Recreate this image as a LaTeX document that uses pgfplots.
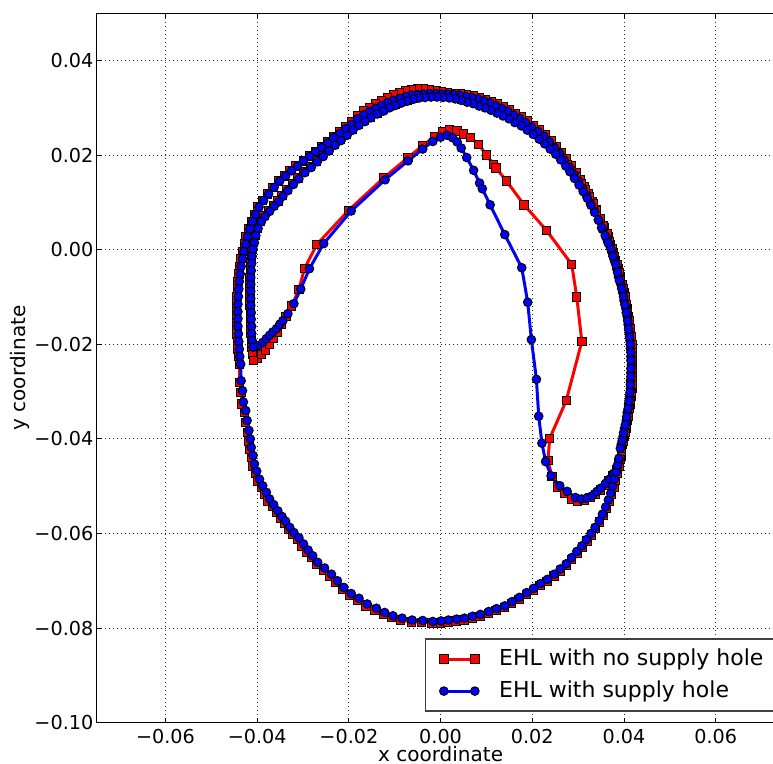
\documentclass[border=0pt]{standalone}
\usepackage{pgfplots}
\pgfplotsset{compat=1.18}
\usepackage{fontspec}
\setmainfont{DejaVu Sans}
\begin{document}
\begin{tikzpicture}
\begin{axis}[
  scale only axis,
  width=343.9pt, height=354.7pt,
  xmin=-0.075, xmax=0.075, ymin=-0.10, ymax=0.05,
  scaled x ticks=false, scaled y ticks=false,
  xtick={-0.06,-0.04,-0.02,0,0.02,0.04,0.06},
  xticklabels={−0.06,−0.04,−0.02,0.00,0.02,0.04,0.06},
  ytick={-0.10,-0.08,-0.06,-0.04,-0.02,0,0.02,0.04},
  yticklabels={−0.10,−0.08,−0.06,−0.04,−0.02,0.00,0.02,0.04},
  tick align=inside, major tick length=2.5pt,
  tick style={black, line width=0.5pt},
  axis line style={black, line width=0.6pt},
  ticklabel style={font=\fontsize{9.6}{11}\selectfont},
  xticklabel style={inner sep=0pt, anchor=north, yshift=-3.1pt},
  yticklabel style={inner sep=0pt, anchor=east, xshift=-1.5pt},
  grid=major,
  major grid style={black!85, line width=0.5pt, dash pattern=on 0.5pt off 1.5pt},
  xlabel={x coordinate}, ylabel={y coordinate},
  label style={font=\fontsize{9}{11}\selectfont},
  every axis x label/.style={at={(axis description cs:0.5,-0.0550)}, anchor=base},
  every axis y label/.style={at={(axis description cs:-0.1028,0.5)}, rotate=90, anchor=base},
  legend image code/.code={\draw[#1] plot coordinates {(0pt,0pt) (15.5pt,0pt)};},
  legend cell align=left,
  legend style={at={(0.9906,0.0155)}, anchor=south east, draw=black!75, line width=0.6pt,
    fill=white, inner xsep=7pt, inner ysep=4.5pt, row sep=5pt,
    font=\fontsize{11}{13}\selectfont,
    nodes={inner sep=0pt, text height=8.5pt, text depth=2.5pt},
    /tikz/every odd column/.append style={column sep=10pt}},
]
\addplot[red, line width=1.5pt, mark=square*, mark size=2.1pt,
  mark options={fill=red, draw=black, line width=0.5pt, solid}] coordinates {
(-0.0408,-0.0234) (-0.0399,-0.0229) (-0.0390,-0.0222) (-0.0382,-0.0212) (-0.0373,-0.0200) (-0.0364,-0.0188) (-0.0356,-0.0174) (-0.0347,-0.0158) (-0.0337,-0.0141) (-0.0325,-0.0119) (-0.0309,-0.0084) (-0.0297,-0.0040) (-0.0270,0.0011) (-0.0201,0.0083) (-0.0124,0.0152) (-0.0071,0.0195) (-0.0039,0.0220) (-0.0013,0.0240) (0.0005,0.0249) (0.0020,0.0254) (0.0036,0.0251) (0.0050,0.0245) (0.0065,0.0237) (0.0083,0.0223) (0.0100,0.0200) (0.0116,0.0180) (0.0121,0.0173) (0.0144,0.0145) (0.0182,0.0095) (0.0231,0.0041) (0.0286,-0.0031) (0.0297,-0.0100) (0.0308,-0.0194) (0.0274,-0.0319) (0.0238,-0.0399) (0.0234,-0.0446) (0.0243,-0.0479) (0.0256,-0.0502) (0.0270,-0.0516) (0.0285,-0.0527) (0.0299,-0.0532) (0.0314,-0.0530) (0.0326,-0.0524) (0.0338,-0.0517) (0.0349,-0.0508) (0.0359,-0.0499) (0.0367,-0.0489) (0.0376,-0.0478) (0.0384,-0.0465) (0.0389,-0.0451) (0.0394,-0.0436)
(0.0397,-0.0412) (0.0401,-0.0395) (0.0404,-0.0378) (0.0408,-0.0361) (0.0410,-0.0344) (0.0413,-0.0327) (0.0415,-0.0310) (0.0417,-0.0294) (0.0417,-0.0277) (0.0418,-0.0260) (0.0419,-0.0243) (0.0418,-0.0226) (0.0417,-0.0209) (0.0416,-0.0192) (0.0414,-0.0175) (0.0412,-0.0158) (0.0410,-0.0141) (0.0407,-0.0124) (0.0403,-0.0107) (0.0400,-0.0090) (0.0396,-0.0073) (0.0391,-0.0057) (0.0387,-0.0040) (0.0382,-0.0023) (0.0377,-0.0006) (0.0371,0.0011)
(0.0366,0.0027) (0.0357,0.0046) (0.0349,0.0065) (0.0340,0.0084) (0.0331,0.0101) (0.0322,0.0118) (0.0314,0.0133) (0.0305,0.0148) (0.0295,0.0162) (0.0285,0.0177) (0.0274,0.0192) (0.0264,0.0206) (0.0253,0.0218) (0.0241,0.0231) (0.0229,0.0243) (0.0216,0.0253) (0.0202,0.0263) (0.0189,0.0272) (0.0176,0.0281) (0.0163,0.0288) (0.0150,0.0296) (0.0137,0.0302) (0.0124,0.0308) (0.0111,0.0314) (0.0098,0.0318) (0.0085,0.0322) (0.0072,0.0325) (0.0057,0.0327) (0.0043,0.0329) (0.0029,0.0331) (0.0015,0.0333) (0.0002,0.0335) (-0.0011,0.0337) (-0.0024,0.0339) (-0.0037,0.0340) (-0.0050,0.0340) (-0.0063,0.0339) (-0.0076,0.0337) (-0.0089,0.0333) (-0.0103,0.0328) (-0.0116,0.0322) (-0.0129,0.0316) (-0.0142,0.0309) (-0.0155,0.0301) (-0.0168,0.0293) (-0.0181,0.0284) (-0.0194,0.0271) (-0.0207,0.0261) (-0.0220,0.0250) (-0.0233,0.0240) (-0.0246,0.0229) (-0.0260,0.0218) (-0.0273,0.0208) (-0.0286,0.0198) (-0.0299,0.0188)
(-0.0315,0.0177) (-0.0328,0.0167) (-0.0341,0.0156) (-0.0354,0.0145) (-0.0366,0.0132) (-0.0378,0.0118) (-0.0389,0.0104) (-0.0399,0.0090) (-0.0406,0.0075) (-0.0413,0.0060) (-0.0419,0.0044) (-0.0424,0.0028) (-0.0428,0.0012) (-0.0432,-0.0004) (-0.0435,-0.0019) (-0.0438,-0.0035) (-0.0440,-0.0051) (-0.0442,-0.0067) (-0.0443,-0.0083) (-0.0444,-0.0099) (-0.0445,-0.0115) (-0.0445,-0.0131) (-0.0445,-0.0146) (-0.0445,-0.0162) (-0.0444,-0.0178) (-0.0443,-0.0194) (-0.0442,-0.0210) (-0.0441,-0.0226) (-0.0439,-0.0242)
(-0.0438,-0.0281) (-0.0435,-0.0302) (-0.0433,-0.0326) (-0.0428,-0.0344) (-0.0425,-0.0365) (-0.0421,-0.0386) (-0.0418,-0.0404) (-0.0416,-0.0422) (-0.0412,-0.0439) (-0.0409,-0.0457) (-0.0404,-0.0472) (-0.0398,-0.0489) (-0.0391,-0.0503) (-0.0383,-0.0517) (-0.0376,-0.0531) (-0.0367,-0.0543) (-0.0358,-0.0556) (-0.0349,-0.0568) (-0.0341,-0.0578) (-0.0332,-0.0591) (-0.0323,-0.0602) (-0.0312,-0.0613) (-0.0302,-0.0626) (-0.0292,-0.0639) (-0.0282,-0.0651) (-0.0271,-0.0665) (-0.0256,-0.0677) (-0.0241,-0.0690) (-0.0228,-0.0704) (-0.0214,-0.0718) (-0.0198,-0.0731) (-0.0181,-0.0741) (-0.0163,-0.0753) (-0.0143,-0.0762) (-0.0125,-0.0771) (-0.0107,-0.0778) (-0.0087,-0.0783) (-0.0064,-0.0787) (-0.0041,-0.0788) (-0.0019,-0.0789)
(0.0000,-0.0789) (0.0016,-0.0787) (0.0034,-0.0785) (0.0051,-0.0783) (0.0069,-0.0779) (0.0086,-0.0775) (0.0104,-0.0769) (0.0121,-0.0763) (0.0139,-0.0757) (0.0155,-0.0748) (0.0171,-0.0739) (0.0187,-0.0729) (0.0202,-0.0720) (0.0217,-0.0710) (0.0232,-0.0701) (0.0247,-0.0690) (0.0261,-0.0679) (0.0274,-0.0668) (0.0286,-0.0655) (0.0298,-0.0642) (0.0309,-0.0629) (0.0319,-0.0616) (0.0329,-0.0603) (0.0338,-0.0590) (0.0347,-0.0576) (0.0355,-0.0562) (0.0362,-0.0547) (0.0368,-0.0532) (0.0373,-0.0518) (0.0378,-0.0503) (0.0382,-0.0488) (0.0386,-0.0473) (0.0389,-0.0458) (0.0392,-0.0444)
(0.0395,-0.0420) (0.0399,-0.0404) (0.0402,-0.0387) (0.0406,-0.0370) (0.0409,-0.0353) (0.0412,-0.0336) (0.0414,-0.0319) (0.0416,-0.0302) (0.0417,-0.0285) (0.0418,-0.0268) (0.0418,-0.0251) (0.0418,-0.0234) (0.0418,-0.0217) (0.0417,-0.0200) (0.0415,-0.0184) (0.0413,-0.0167) (0.0411,-0.0150) (0.0408,-0.0133) (0.0405,-0.0116) (0.0402,-0.0099) (0.0398,-0.0082) (0.0393,-0.0065) (0.0389,-0.0048) (0.0385,-0.0031) (0.0379,-0.0014) (0.0374,0.0003)
(0.0369,0.0018) (0.0363,0.0033) (0.0355,0.0050) (0.0348,0.0066) (0.0340,0.0082) (0.0332,0.0097) (0.0324,0.0112) (0.0315,0.0126) (0.0306,0.0140) (0.0296,0.0154) (0.0286,0.0168) (0.0277,0.0180) (0.0266,0.0193) (0.0255,0.0205) (0.0243,0.0216) (0.0231,0.0227) (0.0219,0.0237) (0.0206,0.0247) (0.0193,0.0256) (0.0180,0.0265) (0.0166,0.0272) (0.0153,0.0280) (0.0140,0.0286) (0.0127,0.0292) (0.0114,0.0298) (0.0100,0.0303) (0.0087,0.0307) (0.0074,0.0312) (0.0060,0.0315) (0.0047,0.0319) (0.0033,0.0322) (0.0020,0.0324) (0.0005,0.0325) (-0.0008,0.0326) (-0.0021,0.0326) (-0.0034,0.0325) (-0.0047,0.0324) (-0.0060,0.0321) (-0.0073,0.0317) (-0.0086,0.0313) (-0.0099,0.0308) (-0.0112,0.0303) (-0.0125,0.0296) (-0.0139,0.0289) (-0.0153,0.0281) (-0.0166,0.0273) (-0.0179,0.0265) (-0.0193,0.0255) (-0.0206,0.0244) (-0.0219,0.0233) (-0.0232,0.0223) (-0.0245,0.0211) (-0.0258,0.0199) (-0.0271,0.0188) (-0.0284,0.0176) (-0.0298,0.0165) (-0.0311,0.0152) (-0.0323,0.0140) (-0.0335,0.0127) (-0.0346,0.0115) (-0.0355,0.0103) (-0.0365,0.0094) (-0.0375,0.0083) (-0.0385,0.0072) (-0.0393,0.0060) (-0.0400,0.0046) (-0.0405,0.0031) (-0.0408,0.0016) (-0.0411,0.0001) (-0.0413,-0.0014) (-0.0414,-0.0029) (-0.0415,-0.0044) (-0.0416,-0.0059) (-0.0416,-0.0073) (-0.0416,-0.0088) (-0.0416,-0.0103) (-0.0416,-0.0118) (-0.0415,-0.0133) (-0.0415,-0.0147) (-0.0414,-0.0162) (-0.0414,-0.0177) (-0.0413,-0.0192) (-0.0411,-0.0207) (-0.0410,-0.0222) (-0.0408,-0.0234)
};
\addlegendentry{EHL with no supply hole}
\addplot[blue, line width=1.5pt, mark=*, mark size=2.15pt,
  mark options={fill=blue, draw=black, line width=0.5pt, solid}] coordinates {
(-0.0409,-0.0206) (-0.0398,-0.0203) (-0.0388,-0.0196) (-0.0380,-0.0188) (-0.0373,-0.0181) (-0.0366,-0.0174) (-0.0358,-0.0167) (-0.0351,-0.0158) (-0.0344,-0.0150) (-0.0333,-0.0135) (-0.0320,-0.0114) (-0.0305,-0.0083) (-0.0286,-0.0040) (-0.0255,0.0013) (-0.0195,0.0082) (-0.0121,0.0148) (-0.0071,0.0188) (-0.0039,0.0213) (-0.0017,0.0229) (0.0000,0.0238) (0.0014,0.0242) (0.0026,0.0237) (0.0036,0.0228) (0.0045,0.0215) (0.0057,0.0195) (0.0072,0.0168) (0.0085,0.0141) (0.0091,0.0129) (0.0108,0.0095) (0.0140,0.0032) (0.0177,-0.0038) (0.0190,-0.0111) (0.0198,-0.0190) (0.0209,-0.0274) (0.0214,-0.0352) (0.0221,-0.0409) (0.0229,-0.0448) (0.0241,-0.0478) (0.0260,-0.0499) (0.0276,-0.0511) (0.0294,-0.0524) (0.0307,-0.0527) (0.0319,-0.0525) (0.0331,-0.0520) (0.0341,-0.0511) (0.0350,-0.0504) (0.0360,-0.0494) (0.0369,-0.0485) (0.0377,-0.0473) (0.0385,-0.0460) (0.0389,-0.0446)
(0.0394,-0.0412) (0.0398,-0.0395) (0.0401,-0.0378) (0.0405,-0.0361) (0.0407,-0.0344) (0.0410,-0.0327) (0.0412,-0.0310) (0.0414,-0.0294) (0.0414,-0.0277) (0.0415,-0.0260) (0.0416,-0.0243) (0.0415,-0.0226) (0.0414,-0.0209) (0.0413,-0.0192) (0.0411,-0.0175) (0.0409,-0.0158) (0.0407,-0.0141) (0.0404,-0.0124) (0.0400,-0.0107) (0.0397,-0.0090) (0.0393,-0.0073) (0.0388,-0.0057) (0.0384,-0.0040) (0.0379,-0.0023) (0.0374,-0.0006) (0.0368,0.0011)
(0.0362,0.0024) (0.0353,0.0043) (0.0345,0.0062) (0.0336,0.0081) (0.0327,0.0098) (0.0318,0.0115) (0.0310,0.0130) (0.0301,0.0145) (0.0291,0.0159) (0.0281,0.0174) (0.0270,0.0189) (0.0260,0.0203) (0.0249,0.0215) (0.0237,0.0228) (0.0225,0.0240) (0.0212,0.0250) (0.0198,0.0260) (0.0185,0.0269) (0.0172,0.0278) (0.0159,0.0285) (0.0146,0.0293) (0.0133,0.0299) (0.0120,0.0305) (0.0107,0.0311) (0.0094,0.0315) (0.0081,0.0319) (0.0068,0.0322) (0.0055,0.0324) (0.0041,0.0327) (0.0028,0.0328) (0.0015,0.0329) (0.0002,0.0329) (-0.0011,0.0330) (-0.0024,0.0330) (-0.0037,0.0329) (-0.0050,0.0328) (-0.0063,0.0327) (-0.0076,0.0324) (-0.0089,0.0320) (-0.0103,0.0316) (-0.0116,0.0311) (-0.0129,0.0305) (-0.0142,0.0299) (-0.0155,0.0292) (-0.0168,0.0285) (-0.0181,0.0277) (-0.0194,0.0265) (-0.0207,0.0256) (-0.0220,0.0246) (-0.0233,0.0237) (-0.0246,0.0226) (-0.0260,0.0216) (-0.0273,0.0207) (-0.0286,0.0197) (-0.0299,0.0188) (-0.0312,0.0177) (-0.0325,0.0167) (-0.0338,0.0156) (-0.0351,0.0145) (-0.0363,0.0132) (-0.0375,0.0118) (-0.0386,0.0104) (-0.0396,0.0090) (-0.0403,0.0075) (-0.0410,0.0060) (-0.0416,0.0044) (-0.0421,0.0028) (-0.0425,0.0012) (-0.0429,-0.0004) (-0.0432,-0.0019) (-0.0435,-0.0035) (-0.0437,-0.0051) (-0.0439,-0.0067) (-0.0440,-0.0083) (-0.0441,-0.0099) (-0.0442,-0.0115) (-0.0442,-0.0131) (-0.0442,-0.0146) (-0.0442,-0.0162) (-0.0441,-0.0178) (-0.0440,-0.0194) (-0.0439,-0.0210) (-0.0438,-0.0226) (-0.0436,-0.0242)
(-0.0435,-0.0277) (-0.0432,-0.0298) (-0.0430,-0.0322) (-0.0425,-0.0340) (-0.0422,-0.0361) (-0.0418,-0.0382) (-0.0415,-0.0400) (-0.0413,-0.0418) (-0.0409,-0.0435) (-0.0406,-0.0453) (-0.0401,-0.0468) (-0.0395,-0.0485) (-0.0388,-0.0499) (-0.0380,-0.0513) (-0.0373,-0.0527) (-0.0364,-0.0539) (-0.0355,-0.0552) (-0.0346,-0.0564) (-0.0338,-0.0574) (-0.0329,-0.0587) (-0.0320,-0.0598) (-0.0309,-0.0609) (-0.0299,-0.0622) (-0.0289,-0.0635) (-0.0279,-0.0647) (-0.0268,-0.0661) (-0.0253,-0.0673) (-0.0238,-0.0686) (-0.0225,-0.0700) (-0.0211,-0.0714) (-0.0195,-0.0727) (-0.0178,-0.0737) (-0.0160,-0.0749) (-0.0140,-0.0758) (-0.0122,-0.0767) (-0.0104,-0.0774) (-0.0084,-0.0779) (-0.0062,-0.0783) (-0.0039,-0.0784) (-0.0017,-0.0786)
(0.0001,-0.0785) (0.0017,-0.0783) (0.0035,-0.0781) (0.0052,-0.0779) (0.0070,-0.0775) (0.0087,-0.0771) (0.0105,-0.0765) (0.0122,-0.0759) (0.0140,-0.0753) (0.0156,-0.0744) (0.0172,-0.0735) (0.0188,-0.0725) (0.0203,-0.0716) (0.0218,-0.0706) (0.0233,-0.0697) (0.0248,-0.0686) (0.0261,-0.0675) (0.0274,-0.0664) (0.0286,-0.0651) (0.0297,-0.0638) (0.0308,-0.0626) (0.0318,-0.0613) (0.0328,-0.0600) (0.0337,-0.0587) (0.0346,-0.0573) (0.0353,-0.0559) (0.0360,-0.0544) (0.0366,-0.0529) (0.0371,-0.0515) (0.0375,-0.0500) (0.0379,-0.0485) (0.0383,-0.0470) (0.0386,-0.0455) (0.0389,-0.0441)
(0.0392,-0.0420) (0.0396,-0.0404) (0.0399,-0.0387) (0.0403,-0.0370) (0.0406,-0.0353) (0.0409,-0.0336) (0.0411,-0.0319) (0.0413,-0.0302) (0.0414,-0.0285) (0.0415,-0.0268) (0.0415,-0.0251) (0.0415,-0.0234) (0.0415,-0.0217) (0.0414,-0.0200) (0.0412,-0.0184) (0.0410,-0.0167) (0.0408,-0.0150) (0.0405,-0.0133) (0.0402,-0.0116) (0.0399,-0.0099) (0.0395,-0.0082) (0.0390,-0.0065) (0.0386,-0.0048) (0.0382,-0.0031) (0.0376,-0.0014) (0.0371,0.0003)
(0.0365,0.0015) (0.0359,0.0030) (0.0351,0.0047) (0.0344,0.0063) (0.0336,0.0079) (0.0328,0.0094) (0.0320,0.0109) (0.0311,0.0123) (0.0302,0.0137) (0.0292,0.0151) (0.0282,0.0165) (0.0273,0.0177) (0.0262,0.0190) (0.0251,0.0202) (0.0239,0.0213) (0.0227,0.0224) (0.0215,0.0234) (0.0202,0.0244) (0.0189,0.0253) (0.0176,0.0262) (0.0162,0.0269) (0.0149,0.0277) (0.0136,0.0283) (0.0123,0.0289) (0.0110,0.0295) (0.0097,0.0300) (0.0084,0.0304) (0.0071,0.0309) (0.0058,0.0312) (0.0045,0.0316) (0.0032,0.0319) (0.0019,0.0321) (0.0005,0.0322) (-0.0008,0.0323) (-0.0021,0.0323) (-0.0034,0.0322) (-0.0047,0.0321) (-0.0060,0.0318) (-0.0073,0.0314) (-0.0086,0.0310) (-0.0099,0.0305) (-0.0112,0.0300) (-0.0125,0.0293) (-0.0138,0.0287) (-0.0152,0.0279) (-0.0165,0.0271) (-0.0178,0.0263) (-0.0191,0.0253) (-0.0204,0.0242) (-0.0217,0.0231) (-0.0230,0.0221) (-0.0243,0.0209) (-0.0256,0.0197) (-0.0269,0.0186) (-0.0282,0.0174) (-0.0296,0.0163) (-0.0309,0.0150) (-0.0321,0.0138) (-0.0333,0.0125) (-0.0344,0.0113) (-0.0353,0.0101) (-0.0363,0.0092) (-0.0373,0.0081) (-0.0383,0.0070) (-0.0391,0.0059) (-0.0398,0.0045) (-0.0403,0.0030) (-0.0406,0.0015) (-0.0409,0.0001) (-0.0411,-0.0014) (-0.0412,-0.0029) (-0.0413,-0.0044) (-0.0414,-0.0059) (-0.0414,-0.0073) (-0.0414,-0.0088) (-0.0414,-0.0103) (-0.0414,-0.0118) (-0.0413,-0.0133) (-0.0413,-0.0147) (-0.0412,-0.0162) (-0.0412,-0.0177) (-0.0411,-0.0192) (-0.0409,-0.0206)
};
\addlegendentry{EHL with supply hole}
\end{axis}
\pgfresetboundingbox
\useasboundingbox (-48.35pt,-20.65pt) rectangle (338.15pt,361.35pt);
\end{tikzpicture}
\end{document}
